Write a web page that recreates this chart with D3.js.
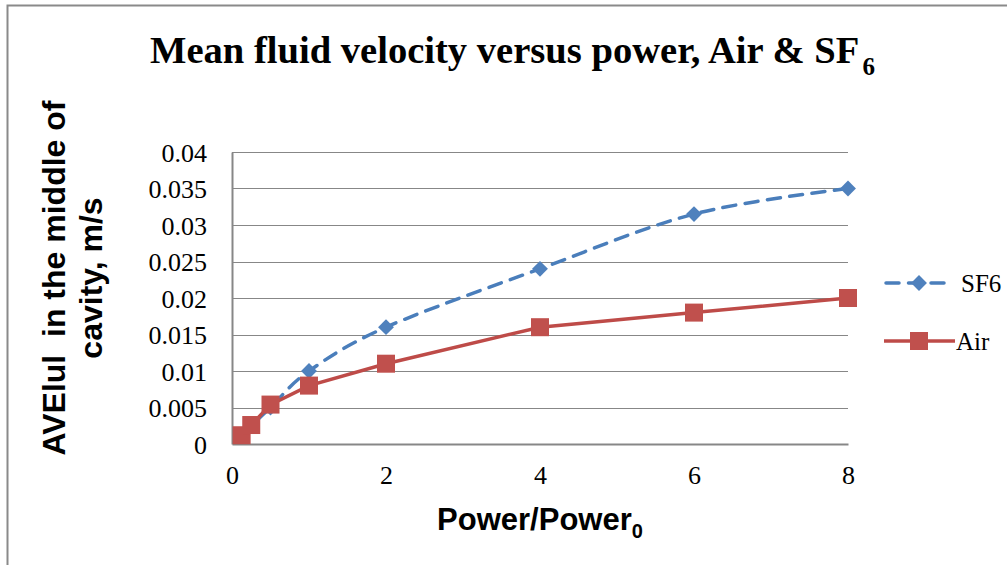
<!DOCTYPE html>
<html>
<head>
<meta charset="utf-8">
<script src="https://cdn.jsdelivr.net/npm/d3@7/dist/d3.min.js"></script>
<style>
  html, body { margin: 0; padding: 0; background: #fff; }
  svg { display: block; }
  .serif { font-family: "Liberation Serif", serif; }
  .sans { font-family: "Liberation Sans", Arial, sans-serif; font-weight: bold; }
</style>
</head>
<body>
<div id="chart"></div>
<script>
// power ratio on the x axis
const powerRatio = [0.125, 0.25, 0.5, 1, 2, 4, 6, 8];
// mean velocity, m/s
const sf6Values = [0.0012, 0.0025, 0.005, 0.01, 0.016, 0.024, 0.0315, 0.035];
const airValues = [0.0012, 0.0026, 0.0054, 0.008, 0.011, 0.016, 0.018, 0.02];

const xTicks = [0, 2, 4, 6, 8];
const yTicks = [0, 0.005, 0.01, 0.015, 0.02, 0.025, 0.03, 0.035, 0.04];

const width = 1007;
const height = 565;

const svg = d3
  .select("#chart")
  .append("svg")
  .attr("width", width)
  .attr("height", height);

// outer frame (only top and left edges show in the picture)
svg
  .append("path")
  .attr("d", "M7.5,565 V5.5 H1007")
  .attr("fill", "none")
  .attr("stroke", "#8a8a8a")
  .attr("stroke-width", 2);

const x = d3.scaleLinear().domain([0, 8]).range([232, 848]);
const y = d3.scaleLinear().domain([0, 0.04]).range([444, 152]);

// gridlines
svg
  .append("g")
  .selectAll("line")
  .data(yTicks.slice(1))
  .join("line")
  .attr("x1", x(0))
  .attr("x2", x(8))
  .attr("y1", (d) => Math.round(y(d)) + 0.5)
  .attr("y2", (d) => Math.round(y(d)) + 0.5)
  .attr("stroke", "#878787")
  .attr("stroke-width", 1);

// axes
const yAxis = svg
  .append("g")
  .attr("transform", `translate(${x(0)},0)`)
  .call(
    d3.axisLeft(y).tickValues(yTicks).tickFormat((d) => String(d)).tickSize(0).tickPadding(25)
  );

const xAxis = svg
  .append("g")
  .attr("transform", `translate(0,${y(0)})`)
  .call(
    d3.axisBottom(x).tickValues(xTicks).tickFormat((d) => String(d)).tickSize(0).tickPadding(22)
  );

[xAxis, yAxis].forEach((a) => {
  a.attr("font-family", null).attr("font-size", null);
  a.select(".domain").attr("stroke", "#878787").attr("stroke-width", 2);
  a.selectAll("text")
    .attr("class", "serif")
    .style("font-size", "26px")
    .attr("fill", "#000");
});
yAxis.selectAll("text").attr("dy", "0.35em");

// series
const sf6 = powerRatio.map((p, i) => ({ x: p, y: sf6Values[i] }));
const air = powerRatio.map((p, i) => ({ x: p, y: airValues[i] }));

const smoothLine = d3
  .line()
  .x((d) => x(d.x))
  .y((d) => y(d.y))
  .curve(d3.curveCardinal.tension(0));

const straightLine = d3
  .line()
  .x((d) => x(d.x))
  .y((d) => y(d.y));

svg
  .append("path")
  .datum(sf6)
  .attr("d", smoothLine)
  .attr("fill", "none")
  .attr("stroke", "#4a7ebb")
  .attr("stroke-width", 3.5)
  .attr("stroke-linecap", "round")
  .attr("stroke-dasharray", "13,9.5");

const diamond = d3.symbol().type(d3.symbolDiamond2).size(160);
svg
  .append("g")
  .selectAll("path")
  .data(sf6)
  .join("path")
  .attr("transform", (d) => `translate(${x(d.x)},${y(d.y)})`)
  .attr("d", diamond)
  .attr("fill", "#4f81bd");

svg
  .append("path")
  .datum(air)
  .attr("d", straightLine)
  .attr("fill", "none")
  .attr("stroke", "#be4b48")
  .attr("stroke-width", 3.5);

svg
  .append("g")
  .selectAll("rect")
  .data(air)
  .join("rect")
  .attr("x", (d) => x(d.x) - 9)
  .attr("y", (d) => y(d.y) - 9)
  .attr("width", 18)
  .attr("height", 18)
  .attr("fill", "#c0504d");

// legend
const legend = svg.append("g");

legend
  .append("line")
  .attr("x1", 886)
  .attr("x2", 946)
  .attr("y1", 283)
  .attr("y2", 283)
  .attr("stroke", "#4a7ebb")
  .attr("stroke-width", 3.5)
  .attr("stroke-linecap", "round")
  .attr("stroke-dasharray", "13,9.5");
legend
  .append("path")
  .attr("transform", "translate(919,283)")
  .attr("d", diamond)
  .attr("fill", "#4f81bd");
legend
  .append("text")
  .attr("class", "serif")
  .attr("x", 961)
  .attr("y", 292)
  .style("font-size", "25px")
  .text("SF6");

legend
  .append("line")
  .attr("x1", 884)
  .attr("x2", 955)
  .attr("y1", 341)
  .attr("y2", 341)
  .attr("stroke", "#be4b48")
  .attr("stroke-width", 3.5);
legend
  .append("rect")
  .attr("x", 910)
  .attr("y", 332)
  .attr("width", 18)
  .attr("height", 18)
  .attr("fill", "#c0504d");
legend
  .append("text")
  .attr("class", "serif")
  .attr("x", 956)
  .attr("y", 350)
  .style("font-size", "25px")
  .text("Air");

// title
const title = svg
  .append("text")
  .attr("class", "serif")
  .attr("x", 150)
  .attr("y", 63)
  .style("font-weight", "bold")
  .style("font-size", "38.6px");
title.append("tspan").text("Mean fluid velocity versus power, Air & SF");
title.append("tspan").attr("dx", 3).attr("dy", 12).style("font-size", "25px").text("6");

// x axis title
const xTitle = svg
  .append("text")
  .attr("class", "sans")
  .attr("x", 540)
  .attr("y", 530)
  .attr("text-anchor", "middle")
  .style("font-size", "31px");
xTitle.append("tspan").text("Power/Power");
xTitle.append("tspan").style("font-size", "20px").attr("dy", 8).text("0");

// y axis title, two lines
const yTitle = svg
  .append("text")
  .attr("class", "sans")
  .attr("transform", "translate(0,278) rotate(-90)")
  .attr("text-anchor", "middle")
  .style("font-size", "32px")
  .style("white-space", "pre");
yTitle.append("tspan").attr("x", 0).attr("y", 65).text("AVElul  in the middle of");
yTitle.append("tspan").attr("x", 0).attr("y", 102).text("cavity, m/s");
</script>
</body>
</html>
